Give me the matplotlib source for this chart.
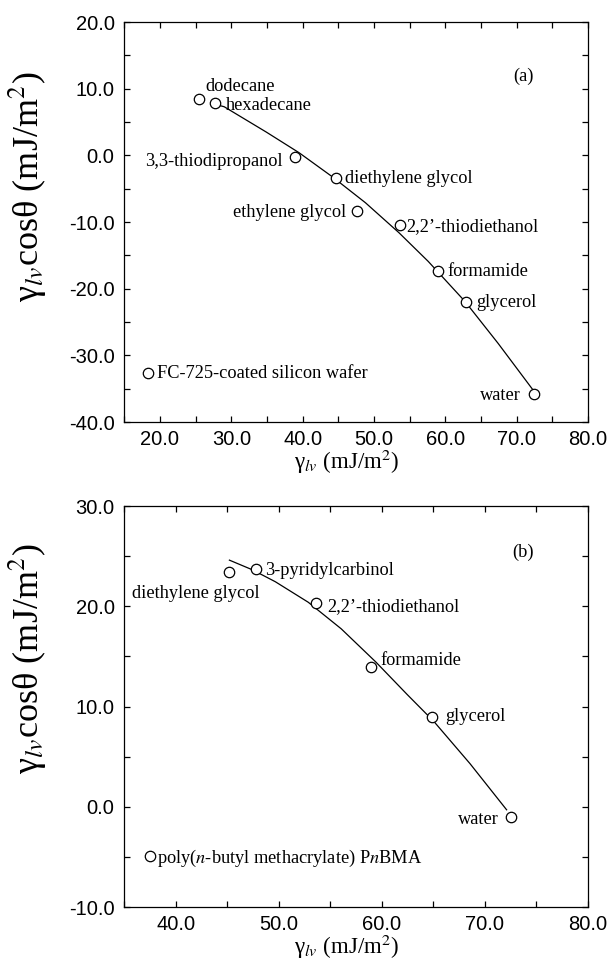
import matplotlib
matplotlib.use("Agg")
import matplotlib.pyplot as plt
from matplotlib.ticker import MultipleLocator, FormatStrFormatter

plt.rcParams["mathtext.fontset"] = "stix"

# (a) FC-725-coated silicon wafer
a_liquids = ["dodecane", "hexadecane", "3,3-thiodipropanol", "diethylene glycol",
             "ethylene glycol", "2,2\u2019-thiodiethanol", "formamide", "glycerol", "water"]
a_gamma = [25.45, 27.65, 38.9, 44.7, 47.55, 53.65, 59.0, 62.85, 72.4]
a_cos = [8.4, 7.9, -0.2, -3.45, -8.35, -10.5, -17.35, -21.95, -35.8]
# fitted curve
a_curve_x = [28.3, 29.0, 34.9, 39.5, 44.15, 48.8, 53.5, 57.6, 62.75, 67.4, 72.3]
a_curve_y = [7.5, 7.3, 3.5, 0.4, -3.2, -7.1, -11.6, -15.9, -21.9, -28.2, -35.2]

# (b) PnBMA
b_liquids = ["diethylene glycol", "3-pyridylcarbinol", "2,2\u2019-thiodiethanol",
             "formamide", "glycerol", "water"]
b_gamma = [45.2, 47.8, 53.65, 58.95, 64.9, 72.5]
b_cos = [23.45, 23.7, 20.3, 13.9, 9.0, -1.0]
b_curve_x = [45.2, 47.4, 49.65, 52.85, 56.05, 59.4, 62.45, 65.05, 68.55, 72.1]
b_curve_y = [24.6, 23.65, 22.45, 20.4, 17.75, 14.45, 11.2, 8.5, 4.3, -0.3]

serif = "Liberation Serif"
sans = "Liberation Sans"

fig = plt.figure(figsize=(6.07, 9.64), dpi=100)
ax_a = fig.add_axes([0.2048, 0.5622, 0.7639, 0.4149])
ax_b = fig.add_axes([0.2048, 0.0591, 0.7639, 0.4160])


def style_axes(ax, xlim, ylim, label_y):
    ax.set_xlim(*xlim)
    ax.set_ylim(*ylim)
    ax.xaxis.set_major_locator(MultipleLocator(10))
    ax.xaxis.set_minor_locator(MultipleLocator(5))
    ax.yaxis.set_major_locator(MultipleLocator(10))
    ax.yaxis.set_minor_locator(MultipleLocator(5))
    ax.xaxis.set_major_formatter(FormatStrFormatter("%.1f"))
    ax.yaxis.set_major_formatter(FormatStrFormatter("%.1f"))
    ax.tick_params(which="both", direction="in", top=True, right=True,
                   length=4, width=0.9)
    ax.tick_params(axis="x", pad=6)
    ax.tick_params(axis="y", pad=7)
    for lab in ax.get_xticklabels() + ax.get_yticklabels():
        lab.set_fontfamily(sans)
        lab.set_fontsize(14.5)
    for sp in ax.spines.values():
        sp.set_linewidth(0.9)
    ax.set_xlabel("\u03b3$_{lv}$ (mJ/m$^2$)", fontfamily=serif, fontsize=16.5)
    ax.set_ylabel("\u03b3$_{lv}$cos\u03b8 (mJ/m$^2$)", fontfamily=serif, fontsize=26)
    ax.yaxis.set_label_coords(-0.162, label_y)
    ax.xaxis.set_label_coords(0.48, -0.065)


mk = dict(marker="o", markersize=7.5, markerfacecolor="white",
          markeredgecolor="black", markeredgewidth=0.9, linestyle="none")
txt = dict(fontfamily=serif, fontsize=13.2, va="center")

# panel (a)
style_axes(ax_a, (15, 80), (-40, 20), 0.5875)
ax_a.plot(a_curve_x, a_curve_y, color="black", lw=0.9)
ax_a.plot(a_gamma, a_cos, **mk)
a_text = [(26.3, 10.4, "left"), (29.2, 7.55, "left"), (37.2, -0.95, "right"),
          (45.9, -3.4, "left"), (46.1, -8.6, "right"), (54.5, -10.7, "left"),
          (60.3, -17.45, "left"), (64.3, -22.1, "left"), (70.6, -36.0, "right")]
for name, (tx, ty, ha) in zip(a_liquids, a_text):
    ax_a.text(tx, ty, name, ha=ha, **txt)
ax_a.plot([18.3], [-32.6], **mk)
ax_a.text(19.6, -32.7, "FC-725-coated silicon wafer", ha="left", **txt)
ax_a.text(71.0, 11.9, "(a)", ha="center", **txt)

# panel (b)
style_axes(ax_b, (35, 80), (-10, 30), 0.62)
ax_b.plot(b_curve_x, b_curve_y, color="black", lw=0.9)
ax_b.plot(b_gamma, b_cos, **mk)
b_text = [(35.7, 21.3, "left"), (48.7, 23.6, "left"), (54.7, 19.95, "left"),
          (59.9, 14.6, "left"), (66.1, 9.0, "left"), (71.3, -1.25, "right")]
for name, (tx, ty, ha) in zip(b_liquids, b_text):
    ax_b.text(tx, ty, name, ha=ha, **txt)
ax_b.plot([37.5], [-4.9], **mk)
ax_b.text(38.2, -5.15, "poly($n$-butyl methacrylate) P$n$BMA", ha="left", **txt)
ax_b.text(73.7, 25.4, "(b)", ha="center", **txt)

fig.savefig("out.png", dpi=100)
